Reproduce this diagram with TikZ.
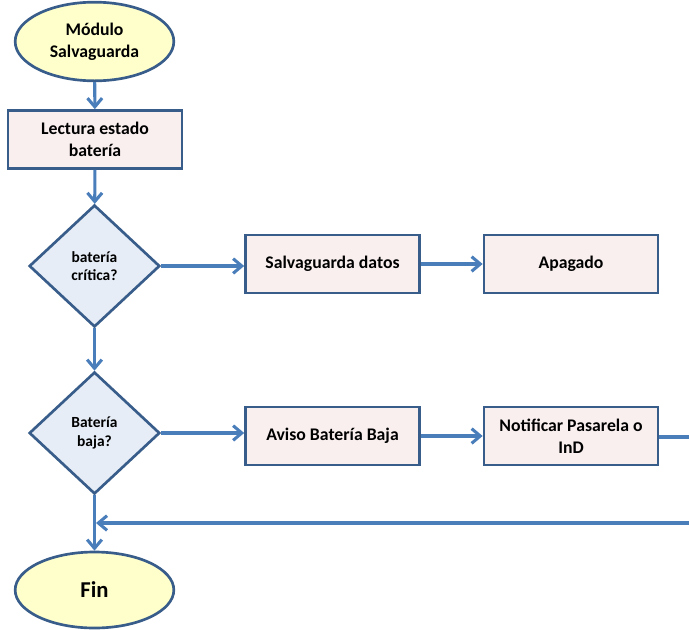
\documentclass[tikz,border=0pt]{standalone}
\usepackage{fontspec}
\setmainfont{Carlito}
\usetikzlibrary{shapes.geometric,arrows.meta}
\definecolor{bord}{HTML}{385D8A}
\definecolor{arr}{HTML}{4A7EBB}
\definecolor{rectfill}{HTML}{F9EFEE}
\definecolor{ellfill}{HTML}{FFFFCC}
\definecolor{diafill}{HTML}{E6EDF6}
\begin{document}
\begin{tikzpicture}[x=0.75pt,y=-0.75pt,
  box/.style={draw=bord, line width=2pt, fill=rectfill, minimum width=130.5pt, minimum height=43.5pt, inner sep=0pt, align=center, font=\bfseries\fontsize{13.3}{16.8}\selectfont},
  term/.style={draw=bord, line width=2pt, fill=ellfill, ellipse, minimum width=119pt, minimum height=59pt, inner sep=0pt, align=center, font=\bfseries\fontsize{13.3}{16.8}\selectfont},
  decis/.style={draw=bord, line width=2pt, fill=diafill, diamond, aspect=1.07, minimum width=98pt, minimum height=91.5pt, inner sep=0pt, align=center, font=\bfseries\fontsize{11.6}{13.6}\selectfont},
  flow/.style={draw=arr, line width=2.3pt, -{Straight Barb[length=6.5pt,width=11pt,line width=2.3pt]}},
  flowline/.style={draw=arr, line width=2.3pt}
]
\useasboundingbox (0,0) rectangle (689,629);
\node[term] (start) at (94.5,41.5) {Módulo\\Salvaguarda};
\node[box] (read) at (95,139.5) {Lectura estado\\batería};
\node[decis] (d1) at (94.5,266) {batería\\crítica?};
\node[box] (salv) at (332.5,264) {Salvaguarda datos};
\node[box] (apag) at (571,264) {Apagado};
\node[decis] (d2) at (94.5,433) {Batería\\baja?};
\node[box] (aviso) at (332.5,436) {Aviso Batería Baja};
\node[box] (notif) at (571,436) {Notificar Pasarela o\\InD};
\node[term, minimum height=57pt, font=\bfseries\fontsize{17}{20}\selectfont] (fin) at (94.5,590) {Fin};
\coordinate (c1) at (692,437);
\coordinate (c2) at (692,523);
\coordinate (c3) at (96,523);

\draw[flow] (start) -- (read);
\draw[flow] (read) -- (d1);
\draw[flow] (d1.east) -- (d1.east -| salv.west);
\draw[flow] (salv) -- (apag);
\draw[flow] (d1) -- (d2);
\draw[flow] (d2.east) -- (d2.east -| aviso.west);
\draw[flow] (aviso) -- (notif);
\draw[flow] (d2) -- (fin);
\draw[flowline] (notif.east |- c1) -- (c1) -- (c2);
\draw[flow] (c2) -- (c3);
\end{tikzpicture}
\end{document}
